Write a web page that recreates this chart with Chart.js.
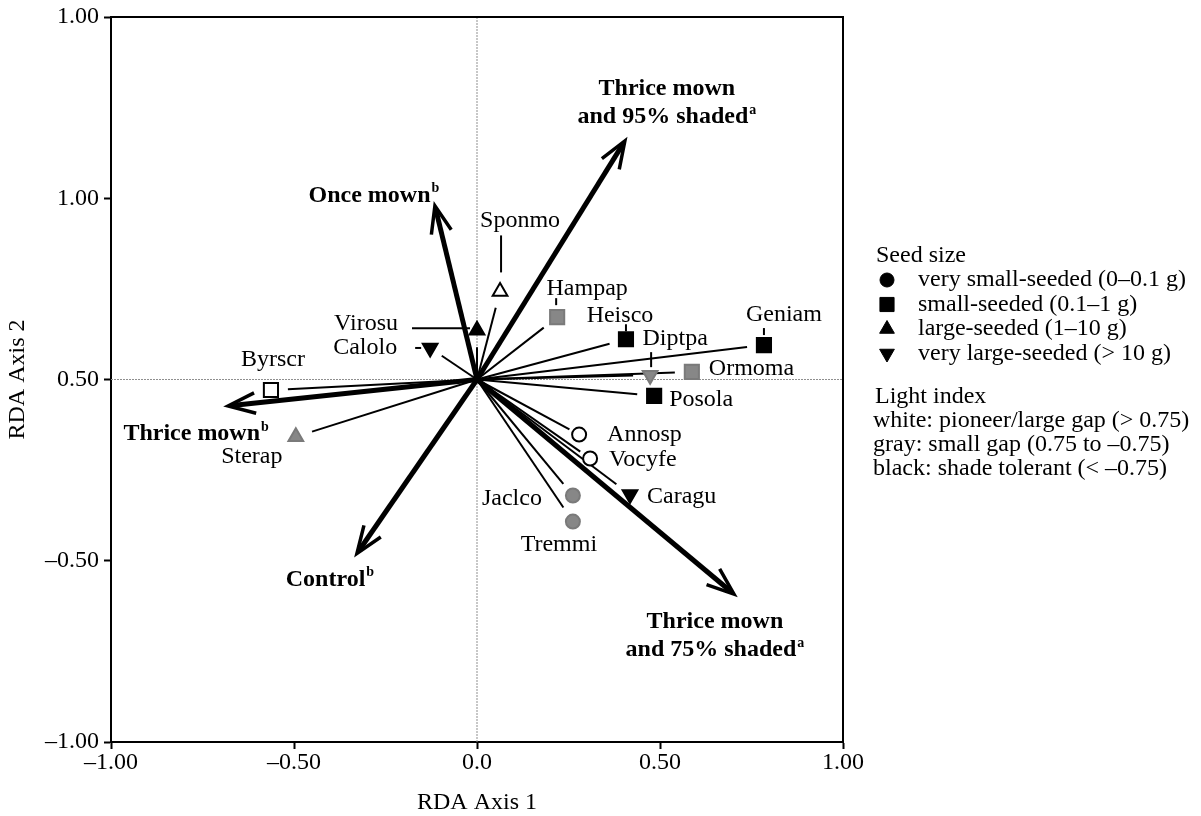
<!DOCTYPE html>
<html>
<head>
<meta charset="utf-8">
<script src="https://cdn.jsdelivr.net/npm/chart.js@4/dist/chart.umd.min.js"></script>
<style>
  body { margin: 0; background: #fff; }
  #wrap { width: 1201px; height: 816px; }
</style>
</head>
<body>
<div id="wrap"><canvas id="rda-chart"></canvas></div>
<script>
// species scores on RDA axes 1 and 2
const species   = ['Sponmo','Virosu','Calolo','Byrscr','Sterap','Hampap','Heisco','Geniam','Diptpa','Ormoma','Posola','Annosp','Vocyfe','Caragu','Jaclco','Tremmi'];
const speciesX  = [0.063, 0.000, -0.128, -0.563, -0.495, 0.219, 0.407, 0.784, 0.473, 0.587, 0.484, 0.279, 0.309, 0.418, 0.262, 0.262];
const speciesY  = [0.243, 0.136, 0.087, -0.029, -0.158, 0.172, 0.111, 0.095, 0.012, 0.021, -0.045, -0.152, -0.218, -0.317, -0.320, -0.392];
const seedSize  = ['large','large','vlarge','small','large','small','small','small','vlarge','small','small','vsmall','vsmall','vlarge','vsmall','vsmall'];
const lightIdx  = ['white','black','black','white','gray','gray','black','black','gray','gray','black','white','white','black','gray','gray'];

// treatment vectors
const treatments   = [['Thrice mown','and 95% shaded'], ['Once mown'], ['Thrice mown'], ['Control'], ['Thrice mown','and 75% shaded']];
const treatmentSup = ['a','b','b','b','a'];
const treatmentX   = [0.404, -0.115, -0.680, -0.328, 0.702];
const treatmentY   = [0.658, 0.479, -0.073, -0.480, -0.592];

// axis ticks (labels as printed)
const xTickValues = [-1, -0.5, 0, 0.5, 1];
const xTickLabels = ['\u20131.00', '\u20130.50', '0.0', '0.50', '1.00'];
const yTickValues = [-1, -0.5, 0, 0.5, 1];
const yTickLabels = ['\u20131.00', '\u20130.50', '0.50', '1.00', '1.00'];

// legend
const seedKeys   = ['vsmall','small','large','vlarge'];
const seedLabels = ['very small-seeded (0\u20130.1 g)', 'small-seeded (0.1\u20131 g)', 'large-seeded (1\u201310 g)', 'very large-seeded (> 10 g)'];
const lightLines = ['Light index', 'white: pioneer/large gap (> 0.75)', 'gray: small gap (0.75 to \u20130.75)', 'black: shade tolerant (< \u20130.75)'];

// ---- styling ----
const FONT = '"Liberation Serif", "Times New Roman", serif';
const shapes = {
  vsmall: {pointStyle: 'circle',   radius: 7,   rotation: 0},
  small:  {pointStyle: 'rect',     radius: 10,  rotation: 0},
  large:  {pointStyle: 'triangle', radius: 8.5, rotation: 0},
  vlarge: {pointStyle: 'triangle', radius: 8.5, rotation: 180}
};
const fills   = {white: '#ffffff', gray: '#878787', black: '#000000'};
const strokes = {white: '#000000', gray: '#7a7a7a', black: '#000000'};

// label placement relative to the marker, pixels
const labelPos = {
  Sponmo: {dx: 20,  dy: -71, align: 'center', lead: [1, -56, 1, -19]},
  Virosu: {dx: -79, dy: -6,  align: 'right',  lead: [-65, -2, -7, -2]},
  Calolo: {dx: -33, dy: 0,   align: 'right',  lead: [-15, 0, -9, 0]},
  Byrscr: {dx: 2,   dy: -30, align: 'center'},
  Sterap: {dx: -44, dy: 20,  align: 'center'},
  Hampap: {dx: 30,  dy: -28, align: 'center', lead: [-1, -19, -1, -12]},
  Heisco: {dx: -6,  dy: -24, align: 'center', lead: [0, -15, 0, -8]},
  Geniam: {dx: 20,  dy: -30, align: 'center', lead: [0, -17, 0, -10]},
  Diptpa: {dx: 25,  dy: -36, align: 'center', lead: [1, -23, 1, -8]},
  Ormoma: {dx: 17,  dy: -3,  align: 'left'},
  Posola: {dx: 15,  dy: 4,   align: 'left'},
  Annosp: {dx: 28,  dy: 0,   align: 'left'},
  Vocyfe: {dx: 19,  dy: 1,   align: 'left'},
  Caragu: {dx: 17,  dy: 2,   align: 'left'},
  Jaclco: {dx: -31, dy: 3,   align: 'right'},
  Tremmi: {dx: -14, dy: 23,  align: 'center'}
};
const lineGap = {Annosp: 11, Vocyfe: 12, Calolo: 14, Jaclco: 15};
const treatLabelPos = [
  {dx: 42,  dy: -52},
  {dx: -61, dy: -10},
  {dx: -32, dy: 28},
  {dx: -27, dy: 26},
  {dx: -19, dy: 28}
];

function seg(ctx, x1, y1, x2, y2) {
  ctx.beginPath(); ctx.moveTo(x1, y1); ctx.lineTo(x2, y2); ctx.stroke();
}

function drawBoldLabel(ctx, lines, sup, cx, cy) {
  ctx.textBaseline = 'middle';
  ctx.textAlign = 'left';
  lines.forEach((txt, j) => {
    ctx.font = 'bold 24px ' + FONT;
    const w = ctx.measureText(txt).width;
    let sw = 0;
    const last = j === lines.length - 1;
    if (last) { ctx.font = 'bold 14px ' + FONT; sw = ctx.measureText(sup).width + 1; }
    const sx = cx - (w + sw) / 2;
    const ly = cy + j * 28;
    ctx.font = 'bold 24px ' + FONT;
    ctx.fillText(txt, sx, ly);
    if (last) { ctx.font = 'bold 14px ' + FONT; ctx.fillText(sup, sx + w + 1, ly - 7); }
  });
}

const rdaLayer = {
  id: 'rdaLayer',
  beforeDatasetsDraw(chart) {
    const {ctx, chartArea: a, scales: {x, y}} = chart;
    const x0 = x.getPixelForValue(0), y0 = y.getPixelForValue(0);
    ctx.save();
    // dotted zero lines
    ctx.strokeStyle = '#8f8f8f'; ctx.lineWidth = 1; ctx.setLineDash([2, 1]);
    seg(ctx, a.left, y0, a.right, y0);
    seg(ctx, x0, a.top, x0, a.bottom);
    ctx.setLineDash([]);
    // top and right of the frame
    ctx.strokeStyle = '#000'; ctx.lineWidth = 2;
    ctx.beginPath(); ctx.moveTo(a.left, a.top); ctx.lineTo(a.right, a.top); ctx.lineTo(a.right, a.bottom); ctx.stroke();
    // species lines
    ctx.lineWidth = 2;
    species.forEach((s, i) => {
      const px = x.getPixelForValue(speciesX[i]), py = y.getPixelForValue(speciesY[i]);
      const d = Math.hypot(px - x0, py - y0);
      const k = (d - (lineGap[s] || 17)) / d;
      seg(ctx, x0, y0, x0 + (px - x0) * k, y0 + (py - y0) * k);
      const lp = labelPos[s];
      if (lp.lead) seg(ctx, px + lp.lead[0], py + lp.lead[1], px + lp.lead[2], py + lp.lead[3]);
    });
    // treatment arrows
    treatmentX.forEach((tx, i) => {
      const px = x.getPixelForValue(tx), py = y.getPixelForValue(treatmentY[i]);
      const ang = Math.atan2(y0 - py, x0 - px);
      ctx.lineWidth = 5; ctx.lineCap = 'butt';
      seg(ctx, x0, y0, px + Math.cos(ang) * 4, py + Math.sin(ang) * 4);
      const L = 29, h = 0.36;
      ctx.lineWidth = 3.5; ctx.lineJoin = 'miter';
      ctx.beginPath();
      ctx.moveTo(px + Math.cos(ang + h) * L, py + Math.sin(ang + h) * L);
      ctx.lineTo(px, py);
      ctx.lineTo(px + Math.cos(ang - h) * L, py + Math.sin(ang - h) * L);
      ctx.stroke();
    });
    ctx.restore();
  },
  afterDatasetsDraw(chart) {
    const {ctx, scales: {x, y}} = chart;
    ctx.save();
    ctx.fillStyle = '#000';
    ctx.font = '24px ' + FONT;
    ctx.textBaseline = 'middle';
    species.forEach((s, i) => {
      const lp = labelPos[s];
      ctx.textAlign = lp.align;
      ctx.fillText(s, x.getPixelForValue(speciesX[i]) + lp.dx, y.getPixelForValue(speciesY[i]) + lp.dy);
    });
    treatments.forEach((lines, i) => {
      const p = treatLabelPos[i];
      drawBoldLabel(ctx, lines, treatmentSup[i],
        x.getPixelForValue(treatmentX[i]) + p.dx, y.getPixelForValue(treatmentY[i]) + p.dy);
    });
    // legend
    ctx.textAlign = 'left';
    ctx.font = '24px ' + FONT;
    ctx.fillText('Seed size', 876, 256);
    seedKeys.forEach((k, j) => {
      const yy = 280 + j * 24.5;
      ctx.fillStyle = '#000'; ctx.strokeStyle = '#000';
      Chart.helpers.drawPoint(ctx, Object.assign({borderWidth: 2}, shapes[k]), 887, yy);
      ctx.fillText(seedLabels[j], 918, yy);
    });
    lightLines.forEach((t, j) => ctx.fillText(t, j === 0 ? 875 : 873, 397 + j * 24));
    ctx.restore();
  }
};

const tickFont = {family: FONT, size: 24, lineHeight: 1.0};

new Chart(document.getElementById('rda-chart'), {
  type: 'scatter',
  data: {
    datasets: [{
      data: species.map((s, i) => ({x: speciesX[i], y: speciesY[i]})),
      pointStyle: c => shapes[seedSize[c.dataIndex]].pointStyle,
      pointRadius: c => shapes[seedSize[c.dataIndex]].radius,
      rotation: c => shapes[seedSize[c.dataIndex]].rotation,
      backgroundColor: c => fills[lightIdx[c.dataIndex]],
      borderColor: c => strokes[lightIdx[c.dataIndex]],
      borderWidth: 2
    }]
  },
  options: {
    responsive: true,
    maintainAspectRatio: false,
    animation: false,
    events: [],
    layout: {padding: {top: 13, right: 358, left: 0, bottom: 0}},
    plugins: {legend: {display: false}, tooltip: {enabled: false}},
    scales: {
      x: {
        type: 'linear', min: -1, max: 1,
        afterBuildTicks: s => { s.ticks = xTickValues.map(v => ({value: v})); },
        afterFit: s => { s.height = 74; },
        grid: {drawOnChartArea: false, drawTicks: true, tickLength: 7, tickWidth: 2, tickColor: '#000'},
        border: {display: true, color: '#000', width: 2},
        ticks: {color: '#000', font: tickFont, padding: 2, maxRotation: 0, autoSkip: false,
                callback: (v, i) => xTickLabels[i]},
        title: {display: true, text: 'RDA Axis 1', color: '#000', padding: 0,
                font: {family: FONT, size: 24, lineHeight: 1.1}}
      },
      y: {
        type: 'linear', min: -1, max: 1,
        afterBuildTicks: s => { s.ticks = yTickValues.map(v => ({value: v})); },
        afterFit: s => { s.width = 111; },
        grid: {drawOnChartArea: false, drawTicks: true, tickLength: 7, tickWidth: 2, tickColor: '#000'},
        border: {display: true, color: '#000', width: 2},
        ticks: {color: '#000', font: tickFont, padding: 5, autoSkip: false,
                callback: (v, i) => yTickLabels[i]},
        title: {display: true, text: 'RDA Axis 2', color: '#000', padding: {top: 5, bottom: 0},
                font: {family: FONT, size: 24, lineHeight: 1.1}}
      }
    }
  },
  plugins: [rdaLayer]
});
</script>
</body>
</html>
